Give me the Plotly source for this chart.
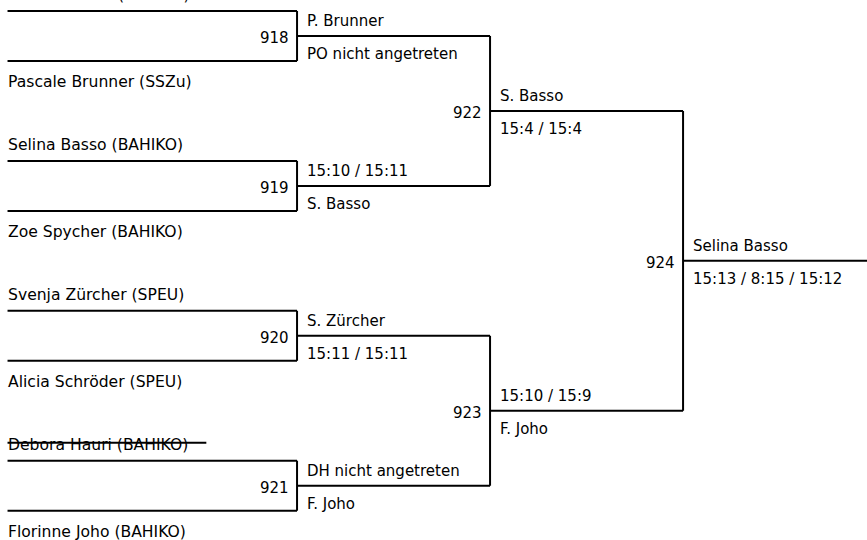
import plotly.graph_objects as go

# ---------------- data ----------------
players = [
    "Patricia Oehri (BAHIKO)",
    "Pascale Brunner (SSZu)",
    "Selina Basso (BAHIKO)",
    "Zoe Spycher (BAHIKO)",
    "Svenja Zürcher (SPEU)",
    "Alicia Schröder (SPEU)",
    "Debora Hauri (BAHIKO)",
    "Florinne Joho (BAHIKO)",
]
withdrawn = ["Debora Hauri (BAHIKO)"]

round1_ids = [918, 919, 920, 921]
round1_above = ["P. Brunner", "15:10 / 15:11", "S. Zürcher", "DH nicht angetreten"]
round1_below = ["PO nicht angetreten", "S. Basso", "15:11 / 15:11", "F. Joho"]

round2_ids = [922, 923]
round2_above = ["S. Basso", "15:10 / 15:9"]
round2_below = ["15:4 / 15:4", "F. Joho"]

final_ids = [924]
final_above = ["Selina Basso"]
final_below = ["15:13 / 8:15 / 15:12"]

rounds = [
    (round1_ids, round1_above, round1_below),
    (round2_ids, round2_above, round2_below),
    (final_ids, final_above, final_below),
]

# ---------------- style ----------------
FONT = dict(family="DejaVu Sans", size=15, color="black")
NAME_FONT = dict(family="DejaVu Sans", size=15.6, color="black")
HALF = 1 / 6          # half distance between the two player lines of a first-round match
X_START = -0.5        # left end of the player lines
STRIKE_LEN = 1.03
STRIKE_UP = 0.12
W, H = 867, 540

xs, ys = [], []
annotations = []


def seg(x0, y0, x1, y1):
    xs.extend([x0, x1, None])
    ys.extend([y0, y1, None])


def text(x, y, s, xanchor="left", xshift=0, yshift=0, font=FONT):
    annotations.append(dict(x=x, y=y, xref="x", yref="y", text=s, showarrow=False,
                            xanchor=xanchor, yanchor="middle", xshift=xshift,
                            yshift=yshift, font=font))


# first-round player lines and names
for j in range(len(round1_ids)):
    top_y, bot_y = j - HALF, j + HALF
    seg(X_START, top_y, 1, top_y)
    seg(X_START, bot_y, 1, bot_y)
    seg(1, top_y, 1, bot_y)
    p_top, p_bot = players[2 * j], players[2 * j + 1]
    text(X_START, top_y, p_top, xshift=-2, yshift=16, font=NAME_FONT)
    text(X_START, bot_y, p_bot, xshift=-2, yshift=-21, font=NAME_FONT)
    for name, yy in ((p_top, top_y), (p_bot, bot_y)):
        if name in withdrawn:
            seg(X_START, yy - STRIKE_UP, X_START + STRIKE_LEN, yy - STRIKE_UP)

# match centres per round
centres = [list(range(len(round1_ids)))]
for r in range(1, len(rounds)):
    prev = centres[-1]
    centres.append([(prev[2 * k] + prev[2 * k + 1]) / 2 for k in range(len(rounds[r][0]))])

for r, (ids, above, below) in enumerate(rounds):
    xv = r + 1
    for k, mid in enumerate(ids):
        yc = centres[r][k]
        if r > 0:
            seg(xv, centres[r - 1][2 * k], xv, centres[r - 1][2 * k + 1])
        seg(xv, yc, xv + 1, yc)
        text(xv, yc, str(mid), xanchor="right", xshift=-6, yshift=-2)
        text(xv, yc, above[k], xshift=8, yshift=15)
        text(xv, yc, below[k], xshift=8, yshift=-18)

fig = go.Figure(go.Scatter(x=xs, y=ys, mode="lines",
                           line=dict(color="black", width=2),
                           hoverinfo="skip", showlegend=False))

fig.update_layout(
    width=W, height=H,
    margin=dict(l=0, r=0, t=0, b=0, pad=0),
    paper_bgcolor="white", plot_bgcolor="white",
    annotations=annotations,
    xaxis=dict(range=[-0.539, 3.953], visible=False, fixedrange=True),
    yaxis=dict(range=[3.362, -0.240], visible=False, fixedrange=True),
)

fig.write_html("out.html", config={"displayModeBar": False},
               post_script="document.body.style.margin='0';")
